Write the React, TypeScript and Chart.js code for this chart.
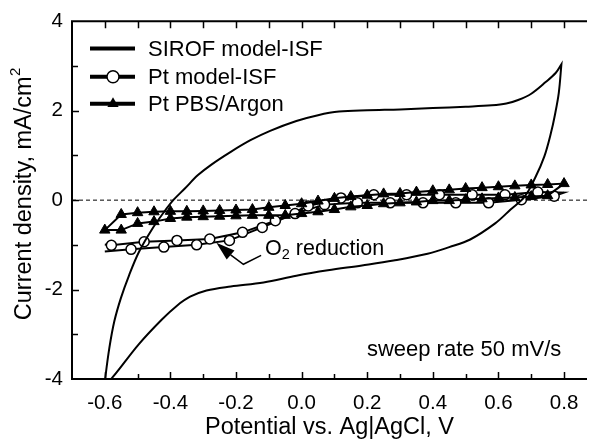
import React, { useEffect, useRef } from 'react';
import { Chart, registerables } from 'chart.js';

Chart.register(...registerables);

const FONT = '"Liberation Sans", Arial, Helvetica, sans-serif';

// ---- Data (potential V, current density mA/cm2) ----
const sirofX = [
  -0.605, -0.599, -0.586, -0.571, -0.551, -0.526, -0.496, -0.456, -0.42, -0.39,
  -0.356, -0.316, -0.276, -0.216, -0.156, -0.096, -0.016, 0.05, 0.114, 0.2,
  0.3, 0.4, 0.5, 0.58, 0.624, 0.66, 0.7, 0.744, 0.775, 0.792,
  0.792, 0.784, 0.772, 0.76, 0.74, 0.712, 0.68, 0.637, 0.59, 0.514,
  0.45, 0.384, 0.28, 0.184, 0.08, -0.016, -0.116, -0.216, -0.29, -0.34,
  -0.38, -0.426, -0.496, -0.576, -0.62,
];
const sirofY = [
  -4.4, -4.0, -3.3, -2.71, -2.19, -1.68, -1.16, -0.65, -0.27, 0.01,
  0.26, 0.56, 0.79, 1.08, 1.34, 1.55, 1.77, 1.9, 1.98, 2.01,
  2.03, 2.06, 2.09, 2.12, 2.16, 2.24, 2.38, 2.64, 2.85, 3.04,
  3.04, 2.4, 1.9, 1.5, 0.98, 0.5, 0.08, -0.21, -0.52, -0.88,
  -1.05, -1.2, -1.35, -1.46, -1.57, -1.69, -1.84, -1.93, -2.02, -2.16,
  -2.36, -2.67, -3.22, -3.96, -4.3,
];

const ptIsfX = [
  -0.6, -0.58, -0.48, -0.38, -0.28, -0.18, -0.08, 0.02, 0.12, 0.22, 0.32, 0.42, 0.52, 0.62, 0.72, 0.8,
  0.77, 0.67, 0.57, 0.47, 0.37, 0.27, 0.17, 0.07, -0.02, -0.12, -0.22, -0.32, -0.42, -0.52, -0.6,
];
const ptIsfY = [
  -0.99, -1.01, -0.93, -0.9, -0.87, -0.72, -0.46, -0.13, 0.05, 0.12, 0.12, 0.12, 0.12, 0.12, 0.18, 0.17,
  0.09, 0.01, -0.06, -0.06, -0.06, -0.06, -0.06, -0.1, -0.3, -0.61, -0.9, -1.0, -1.05, -1.1, -1.15,
];
const ptIsfPlain = [0, 15, 30];

const ptPbsX = [
  -0.6, -0.55, -0.5, -0.45, -0.4, -0.35, -0.3, -0.25, -0.2, -0.15, -0.1, -0.05, 0.0, 0.05, 0.1,
  0.15, 0.2, 0.25, 0.3, 0.35, 0.4, 0.45, 0.5, 0.55, 0.6, 0.65, 0.7, 0.75, 0.8,
  0.75, 0.7, 0.65, 0.6, 0.55, 0.5, 0.45, 0.4, 0.35, 0.3, 0.25, 0.2, 0.15, 0.1, 0.05, 0.0,
  -0.05, -0.1, -0.15, -0.2, -0.25, -0.3, -0.35, -0.4, -0.45, -0.5, -0.55, -0.6,
];
const ptPbsY = [
  -0.67, -0.32, -0.28, -0.26, -0.25, -0.25, -0.24, -0.23, -0.22, -0.21, -0.16, -0.12, -0.08, -0.02, 0.04,
  0.08, 0.11, 0.14, 0.15, 0.18, 0.21, 0.23, 0.26, 0.28, 0.3, 0.32, 0.34, 0.35, 0.37,
  0.1, 0.08, 0.06, 0.05, 0.03, 0.01, -0.01, -0.01, -0.04, -0.06, -0.08, -0.12, -0.15, -0.21, -0.26, -0.3,
  -0.34, -0.34, -0.34, -0.35, -0.36, -0.37, -0.38, -0.41, -0.48, -0.52, -0.67, -0.67,
];
const ptPbsPlain = [56];

// ---- Axes / labels ----
const xMin = -0.7;
const xMax = 0.87;
const yMin = -4;
const yMax = 4;
const xTickValues = [-0.6, -0.5, -0.4, -0.3, -0.2, -0.1, 0.0, 0.1, 0.2, 0.3, 0.4, 0.5, 0.6, 0.7, 0.8];
const xLabelValues = [-0.6, -0.4, -0.2, 0.0, 0.2, 0.4, 0.6, 0.8];
const yTickValues = [-4, -3, -2, -1, 0, 1, 2, 3, 4];
const yLabelValues = [-4, -2, 0, 2, 4];

const legendLabels = ['SIROF model-ISF', 'Pt model-ISF', 'Pt PBS/Argon'];
const xTitle = 'Potential vs. Ag|AgCl, V';
const yTitleMain = 'Current density, mA/cm';
const yTitleSup = '2';
const o2Main = 'O';
const o2Sub = '2';
const o2Rest = ' reduction';
const sweepText = 'sweep rate 50 mV/s';

// annotation anchors in data units
const arrowTip = { x: -0.26, y: -0.953 };
const arrowBase = { x: -0.2165, y: -1.226 };
const arrowElbow = { x: -0.1775, y: -1.434 };
const arrowEnd = { x: -0.1235, y: -1.236 };
const o2TextAt = { x: -0.1115, y: -1.222 };
const sweepAt = { x: 0.199, y: -3.48 };

const isLabel = (v: number, list: number[]) => list.some((l) => Math.abs(l - v) < 1e-6);

const toPts = (xs: number[], ys: number[]) => xs.map((x, i) => ({ x, y: ys[i] }));

const overlay = {
  id: 'overlay',
  beforeDatasetsDraw(chart: any) {
    const { ctx, chartArea: a, scales } = chart;
    const y0 = scales.y.getPixelForValue(0);
    ctx.save();
    ctx.strokeStyle = '#000';
    ctx.lineWidth = 1;
    ctx.setLineDash([4, 3]);
    ctx.beginPath();
    ctx.moveTo(a.left, y0);
    ctx.lineTo(a.right, y0);
    ctx.stroke();
    ctx.restore();
  },
  afterDatasetsDraw(chart: any) {
    const { ctx, chartArea: a, scales } = chart;
    ctx.save();
    ctx.strokeStyle = '#000';
    ctx.lineWidth = 2;
    ctx.beginPath();
    ctx.moveTo(a.right, a.top);
    ctx.lineTo(a.left, a.top);
    ctx.lineTo(a.left, a.bottom);
    ctx.lineTo(a.right, a.bottom);
    ctx.stroke();
    ctx.lineWidth = 1.5;
    ctx.beginPath();
    xTickValues.forEach((v) => {
      const px = Math.round(scales.x.getPixelForValue(v)) + 0.5;
      const major = isLabel(v, xLabelValues);
      ctx.moveTo(px, a.bottom);
      ctx.lineTo(px, a.bottom - (major ? 7 : 5));
      ctx.moveTo(px, a.top);
      ctx.lineTo(px, a.top + 7);
    });
    yTickValues.forEach((v) => {
      if (v === yMin || v === yMax) return;
      const py = Math.round(scales.y.getPixelForValue(v)) + 0.5;
      const major = isLabel(v, yLabelValues);
      ctx.moveTo(a.left, py);
      ctx.lineTo(a.left + (major ? 7 : 6), py);
    });
    ctx.stroke();
    ctx.restore();
  },
  afterDraw(chart: any) {
    const { ctx, chartArea: a, scales } = chart;
    const X = (v: number) => scales.x.getPixelForValue(v);
    const Y = (v: number) => scales.y.getPixelForValue(v);
    ctx.save();
    ctx.fillStyle = '#000';
    ctx.strokeStyle = '#000';

    // legend
    const rows = [a.top + 27.3, a.top + 55.5, a.top + 82.5];
    const x1 = a.left + 18;
    const x2 = a.left + 63;
    const xm = a.left + 41;
    const xt = a.left + 76;
    ctx.font = `22px ${FONT}`;
    ctx.textBaseline = 'middle';
    ctx.textAlign = 'left';
    rows.forEach((y, i) => {
      ctx.lineWidth = 4;
      ctx.beginPath();
      ctx.moveTo(x1, y);
      ctx.lineTo(x2, y);
      ctx.stroke();
      if (i === 1) {
        ctx.lineWidth = 1.5;
        ctx.beginPath();
        ctx.arc(xm, y, 6, 0, Math.PI * 2);
        ctx.fillStyle = '#fff';
        ctx.fill();
        ctx.stroke();
        ctx.fillStyle = '#000';
      } else if (i === 2) {
        const r = 6.5;
        ctx.beginPath();
        ctx.moveTo(xm, y - r);
        ctx.lineTo(xm + r * 0.866, y + r / 2);
        ctx.lineTo(xm - r * 0.866, y + r / 2);
        ctx.closePath();
        ctx.fill();
      }
      ctx.fillText(legendLabels[i], xt, y + 1);
    });

    // y title
    ctx.font = `23.5px ${FONT}`;
    const wMain = ctx.measureText(yTitleMain).width;
    ctx.font = `15px ${FONT}`;
    const wSup = ctx.measureText(yTitleSup).width;
    const total = wMain + wSup;
    const cy = (a.top + a.bottom) / 2 - 6 + total / 2;
    ctx.translate(a.left - 47.8, cy);
    ctx.rotate(-Math.PI / 2);
    ctx.font = `23.5px ${FONT}`;
    ctx.textBaseline = 'middle';
    ctx.fillText(yTitleMain, 0, 0);
    ctx.font = `15px ${FONT}`;
    ctx.fillText(yTitleSup, wMain + 0.5, -8);
    ctx.setTransform(1, 0, 0, 1, 0, 0);

    // O2 reduction arrow
    const tx = X(arrowTip.x), ty = Y(arrowTip.y);
    const bx = X(arrowBase.x), by = Y(arrowBase.y);
    const dx = bx - tx, dy = by - ty;
    const len = Math.hypot(dx, dy);
    const nx = -dy / len, ny = dx / len;
    const hw = 6;
    ctx.beginPath();
    ctx.moveTo(tx, ty);
    ctx.lineTo(bx + nx * hw, by + ny * hw);
    ctx.lineTo(bx - nx * hw, by - ny * hw);
    ctx.closePath();
    ctx.fill();
    ctx.lineWidth = 1.5;
    ctx.beginPath();
    ctx.moveTo(bx, by);
    ctx.lineTo(X(arrowElbow.x), Y(arrowElbow.y));
    ctx.lineTo(X(arrowEnd.x), Y(arrowEnd.y));
    ctx.stroke();

    ctx.textBaseline = 'alphabetic';
    let ox = X(o2TextAt.x);
    const oy = Y(o2TextAt.y);
    ctx.font = `21.5px ${FONT}`;
    ctx.fillText(o2Main, ox, oy);
    ox += ctx.measureText(o2Main).width;
    ctx.font = `14.5px ${FONT}`;
    ctx.fillText(o2Sub, ox, oy + 4);
    ox += ctx.measureText(o2Sub).width;
    ctx.font = `21.5px ${FONT}`;
    ctx.fillText(o2Rest, ox, oy);

    ctx.font = `22px ${FONT}`;
    ctx.fillText(sweepText, X(sweepAt.x), Y(sweepAt.y));
    ctx.restore();
  },
};

export default function App() {
  const ref = useRef<HTMLCanvasElement | null>(null);
  useEffect(() => {
    document.body.style.margin = '0';
    const canvas = ref.current;
    if (!canvas) return;
    const chart = new Chart(canvas, {
      type: 'scatter',
      data: {
        datasets: [
          {
            label: legendLabels[0],
            data: toPts(sirofX, sirofY),
            showLine: true,
            borderColor: '#000',
            borderWidth: 2,
            pointRadius: 0,
            tension: 0.35,
            order: 0,
          },
          {
            label: legendLabels[2],
            data: toPts(ptPbsX, ptPbsY),
            showLine: true,
            borderColor: '#000',
            borderWidth: 2,
            pointStyle: 'triangle',
            pointRadius: (c: any) => (ptPbsPlain.includes(c.dataIndex) ? 0 : 6),
            pointBackgroundColor: '#000',
            pointBorderColor: '#000',
            pointBorderWidth: 1,
            tension: 0,
            order: 1,
          },
          {
            label: legendLabels[1],
            data: toPts(ptIsfX, ptIsfY),
            showLine: true,
            borderColor: '#000',
            borderWidth: 2,
            pointStyle: 'circle',
            pointRadius: (c: any) => (ptIsfPlain.includes(c.dataIndex) ? 0 : 5),
            pointBackgroundColor: '#fff',
            pointBorderColor: '#000',
            pointBorderWidth: 1.5,
            tension: 0,
            order: 2,
          },
        ] as any,
      },
      options: {
        responsive: false,
        animation: false,
        events: [],
        layout: { padding: { top: 16, left: 0, right: 0, bottom: 0 } },
        plugins: { legend: { display: false }, tooltip: { enabled: false } },
        scales: {
          x: {
            type: 'linear',
            min: xMin,
            max: xMax,
            afterBuildTicks: (s: any) => {
              s.ticks = xTickValues.map((v) => ({ value: v }));
            },
            afterFit: (s: any) => {
              s.height = 60;
            },
            grid: { display: false, drawTicks: false },
            border: { display: false },
            ticks: {
              autoSkip: false,
              maxRotation: 0,
              minRotation: 0,
              padding: 12,
              color: '#000',
              font: { family: FONT, size: 20.5 },
              callback: (v: any) => (isLabel(Number(v), xLabelValues) ? Number(v).toFixed(1) : ''),
            },
            title: {
              display: true,
              text: xTitle,
              color: '#000',
              font: { family: FONT, size: 23.5, lineHeight: 1 },
              padding: 0,
            },
          },
          y: {
            type: 'linear',
            min: yMin,
            max: yMax,
            afterBuildTicks: (s: any) => {
              s.ticks = yTickValues.map((v) => ({ value: v }));
            },
            afterFit: (s: any) => {
              s.width = 72;
            },
            grid: { display: false, drawTicks: false },
            border: { display: false },
            ticks: {
              autoSkip: false,
              padding: 9,
              color: '#000',
              font: { family: FONT, size: 20.5 },
              callback: (v: any) => (isLabel(Number(v), yLabelValues) ? String(Math.round(Number(v))) : ''),
            },
          },
        },
      } as any,
      plugins: [overlay],
    });
    return () => chart.destroy();
  }, []);
  return (
    <div style={{ width: 594, height: 439 }}>
      <canvas ref={ref} width={594} height={439} style={{ display: 'block' }} />
    </div>
  );
}
